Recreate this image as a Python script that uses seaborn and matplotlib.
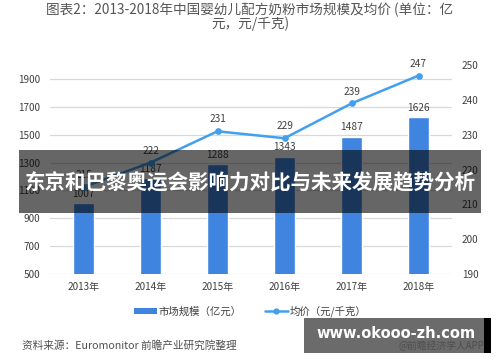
import matplotlib
matplotlib.use('Agg')
import matplotlib.pyplot as plt
from matplotlib.patches import Rectangle
from matplotlib.lines import Line2D
from matplotlib.patches import Patch
import seaborn as sns
import pandas as pd

# data
years = ['2013年', '2014年', '2015年', '2016年', '2017年', '2018年']
market_size = [1007, 1187, 1288, 1343, 1487, 1626]   # 亿元
avg_price = [215, 222, 231, 229, 239, 247]            # 元/千克
left_ticks = [500, 700, 900, 1100, 1300, 1500, 1700, 1900]
right_ticks = [190, 200, 210, 220, 230, 240, 250]

title = '图表2：2013-2018年中国婴幼儿配方奶粉市场规模及均价 (单位：亿\n元，元/千克)'
banner = '东京和巴黎奥运会影响力对比与未来发展趋势分析'
source = '资料来源：Euromonitor 前瞻产业研究院整理'

BAR = '#3F85E0'
LINE = '#42A0EF'
TXT = '#404040'

sns.set_theme(style='white')
plt.rcParams['font.family'] = ['Noto Sans CJK SC', 'DejaVu Sans']

df = pd.DataFrame({'year': years, 'size': market_size, 'price': avg_price})

fig = plt.figure(figsize=(5, 3.62), dpi=100)
ax = fig.add_axes([0.1, 0.243, 0.804, 0.577])

sns.barplot(data=df, x='year', y='size', color=BAR, width=0.31, ax=ax,
            saturation=1, zorder=2)
ax.set_ylim(500, 2000)
ax.set_yticks(left_ticks)
ax.yaxis.grid(True, color='#D9D9D9', linewidth=0.9, zorder=0)
ax.set_axisbelow(True)
ax.set_xlabel('')
ax.set_ylabel('')
ax.tick_params(axis='both', length=0, labelsize=7.2, colors=TXT)
ax.tick_params(axis='y', pad=7)
ax.tick_params(axis='x', pad=6)
for s in ax.spines.values():
    s.set_visible(False)
ax.bar_label(ax.containers[0], fmt='%d', padding=3, fontsize=7.3, color=TXT)

ax2 = ax.twinx()
sns.pointplot(data=df, x='year', y='price', color=LINE, ax=ax2,
              markersize=3.5, linewidth=1.8)
ax2.set_ylim(190, 250)
ax2.set_yticks(right_ticks)
ax2.set_ylabel('')
ax2.tick_params(axis='y', length=0, labelsize=7.2, colors=TXT, pad=7)
for s in ax2.spines.values():
    s.set_visible(False)
for i, v in enumerate(avg_price):
    ax2.annotate(str(v), (i, v), xytext=(0, 5), textcoords='offset points',
                 ha='center', va='bottom', fontsize=7.3, color=TXT)

fig.text(0.5, 0.953, title, ha='center', va='center', fontsize=9.8,
         color='#555555', linespacing=0.9)

handles = [Patch(facecolor=BAR, edgecolor='none'),
           Line2D([0], [0], color=LINE, linewidth=1.8, marker='o', markersize=3.5)]
fig.legend(handles, ['市场规模（亿元）', '均价（元/千克）'], loc='center',
           bbox_to_anchor=(0.5, 0.14), ncol=2, frameon=False, fontsize=7.5,
           handlelength=2.2, handleheight=0.6, columnspacing=2.2,
           labelcolor=TXT, handletextpad=0.2)

fig.text(0.044, 0.047, source, ha='left', va='center', fontsize=7.7, color='#505050')

# dark banner overlay
fig.patches.append(Rectangle((0.038, 1 - 213 / 362), 0.924, 63 / 362,
                             transform=fig.transFigure, facecolor='#000000',
                             alpha=0.6, edgecolor='none', zorder=10))
fig.text(0.5, 1 - 183 / 362, banner, ha='center', va='center', fontsize=14.8,
         fontweight='bold', color='white', zorder=11)

# site watermark bottom right
fig.text(0.968, 1 - 346 / 362, '@前瞻经济学人APP', ha='right', va='center',
         fontsize=7, color='#888888', zorder=9)
fig.patches.append(Rectangle((304 / 500, 1 - 353 / 362), 180 / 500, 35 / 362,
                             transform=fig.transFigure, facecolor='#3a3a3a',
                             alpha=0.75, edgecolor='none', zorder=10))
fig.patches.append(Rectangle((484 / 500, 1 - 353 / 362), 7 / 500, 35 / 362,
                             transform=fig.transFigure, facecolor='#000000',
                             edgecolor='none', zorder=10))
fig.text(0.793, 1 - 333 / 362, 'www.okooo-zh.com', ha='center', va='center',
         fontsize=10.5, fontweight='bold', color='white', zorder=11,
         family=['DejaVu Sans'])

fig.savefig('out.png', dpi=100)
